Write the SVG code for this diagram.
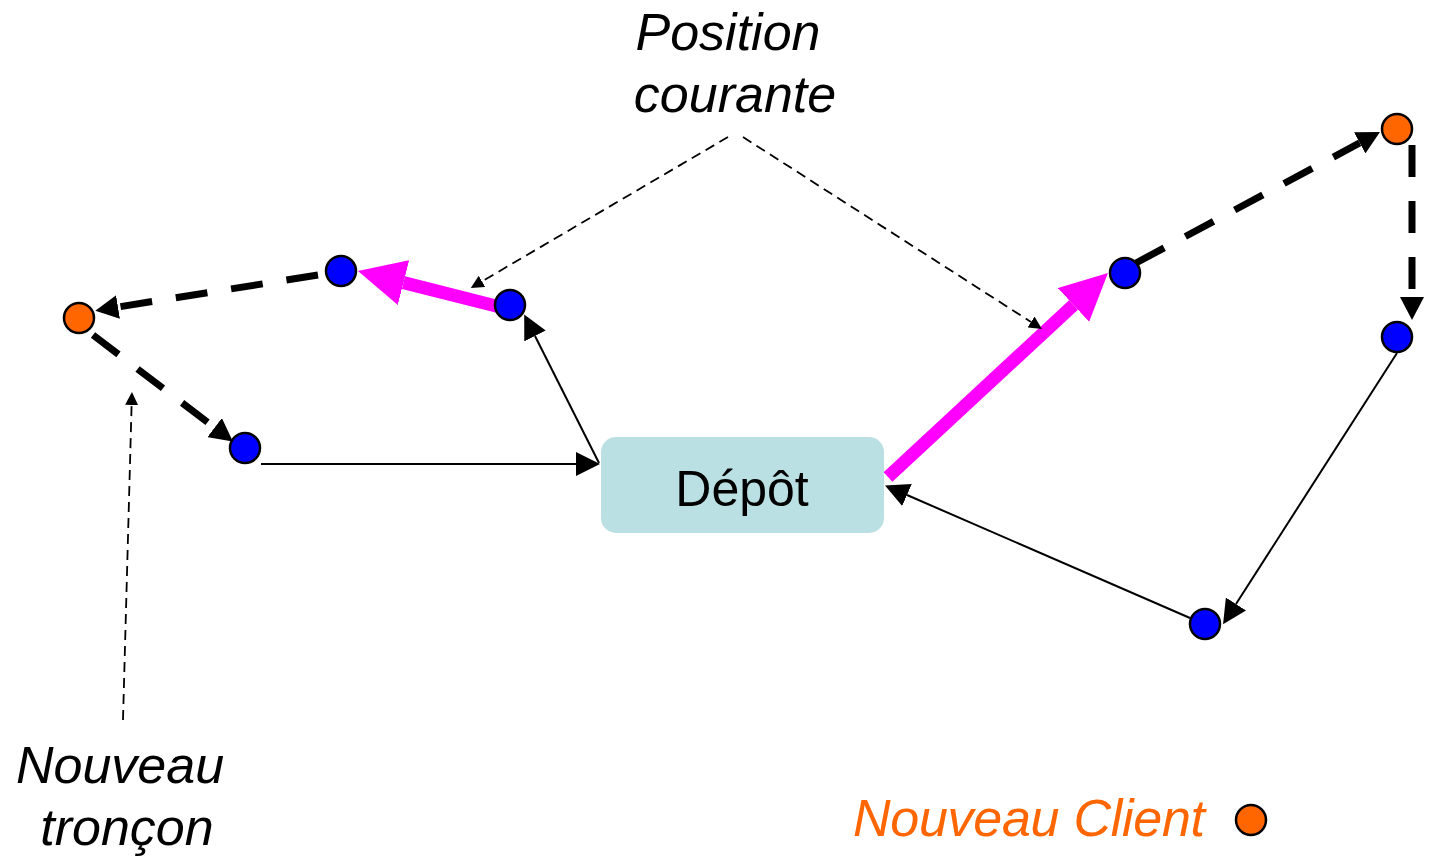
<svg xmlns="http://www.w3.org/2000/svg" width="1429" height="858" viewBox="0 0 1429 858">
<style>
  .lbl { font-family: "Liberation Sans", Arial, sans-serif; font-size: 52px; font-style: italic; fill: #000; }
  .depot-t { font-family: "Liberation Sans", Arial, sans-serif; font-size: 50px; fill: #000; }
  .blue { fill: #0000FF; stroke: #000; stroke-width: 2.5; }
  .orange { fill: #FF6600; stroke: #000; stroke-width: 2.5; }
  .thin { stroke: #000; stroke-width: 2; fill: none; marker-end: url(#hThin); }
  .thick { stroke: #000; stroke-width: 7; fill: none; stroke-dasharray: 32 24; marker-end: url(#hThick); }
  .note { stroke: #000; stroke-width: 1.8; fill: none; stroke-dasharray: 10 6; marker-end: url(#hNote); }
  .mag { stroke: #FF00FF; stroke-width: 13; fill: none; marker-end: url(#hMag); }
</style>
<defs>
  <marker id="hThin" markerUnits="userSpaceOnUse" markerWidth="24" markerHeight="24" viewBox="0 0 24 24" refX="0" refY="12" orient="auto">
    <path d="M0,0 L24,12 L0,24 z" fill="#000"/>
  </marker>
  <marker id="hThick" markerUnits="userSpaceOnUse" markerWidth="23" markerHeight="24" viewBox="0 0 23 24" refX="0" refY="12" orient="auto">
    <path d="M0,0 L23,12 L0,24 z" fill="#000"/>
  </marker>
  <marker id="hNote" markerUnits="userSpaceOnUse" markerWidth="13" markerHeight="13" viewBox="0 0 13 13" refX="0" refY="6.5" orient="auto">
    <path d="M0,0 L13,6.5 L0,13 z" fill="#000"/>
  </marker>
  <marker id="hMag" markerUnits="userSpaceOnUse" markerWidth="47" markerHeight="46" viewBox="0 0 47 46" refX="0" refY="23" orient="auto">
    <path d="M0,0 L47,23 L0,46 z" fill="#FF00FF"/>
  </marker>
</defs>

<g id="connectors">
  <!-- route solid edges -->
  <line class="thin" x1="261" y1="464" x2="576" y2="464"/>
  <line class="thin" x1="599" y1="463" x2="535" y2="336"/>
  <line class="thin" x1="1397" y1="353" x2="1236" y2="604"/>
  <line class="thin" x1="1190" y1="618" x2="907" y2="495"/>
  <!-- current position (magenta) -->
  <line class="mag" x1="500" y1="307" x2="403.5" y2="282.6"/>
  <line class="mag" x1="888" y1="477" x2="1073.5" y2="305"/>
  <!-- new section (dashed) -->
  <line class="thick" x1="318" y1="275" x2="118" y2="307"/>
  <line class="thick" x1="93" y1="335" x2="214.6" y2="427.6"/>
  <line class="thick" x1="1136" y1="263" x2="1359.7" y2="142.9"/>
  <line class="thick" x1="1412" y1="145" x2="1412" y2="297"/>
  <!-- annotations -->
  <line class="note" x1="728" y1="137" x2="482" y2="281.4"/>
  <line class="note" x1="743" y1="137" x2="1031" y2="322"/>
  <line class="note" x1="123" y1="720" x2="131.6" y2="405"/>
</g>

<g id="depot">
  <rect x="601" y="437" width="283" height="96" rx="15" ry="15" fill="#BBE0E3"/>
  <text class="depot-t" x="742" y="506" text-anchor="middle">Dépôt</text>
</g>

<g id="n-left-orange"><circle class="orange" cx="79" cy="318" r="15"/></g>
<g id="n-b1"><circle class="blue" cx="341" cy="271" r="15"/></g>
<g id="n-b2"><circle class="blue" cx="510" cy="305" r="15"/></g>
<g id="n-b3"><circle class="blue" cx="245" cy="448" r="15"/></g>
<g id="n-b4"><circle class="blue" cx="1125" cy="273" r="15"/></g>
<g id="n-right-orange"><circle class="orange" cx="1397" cy="129" r="15"/></g>
<g id="n-b5"><circle class="blue" cx="1397" cy="337" r="15"/></g>
<g id="n-b6"><circle class="blue" cx="1205" cy="624" r="15"/></g>

<g id="label-position">
  <text class="lbl" x="728" y="50" text-anchor="middle">Position</text>
  <text class="lbl" x="735" y="112" text-anchor="middle">courante</text>
</g>
<g id="label-troncon">
  <text class="lbl" x="120" y="783" text-anchor="middle">Nouveau</text>
  <text class="lbl" x="127" y="845" text-anchor="middle">tronçon</text>
</g>
<g id="legend">
  <text class="lbl" x="853" y="836" style="fill:#FF6600" textLength="352">Nouveau Client</text>
  <circle class="orange" cx="1251" cy="820" r="15"/>
</g>
</svg>
